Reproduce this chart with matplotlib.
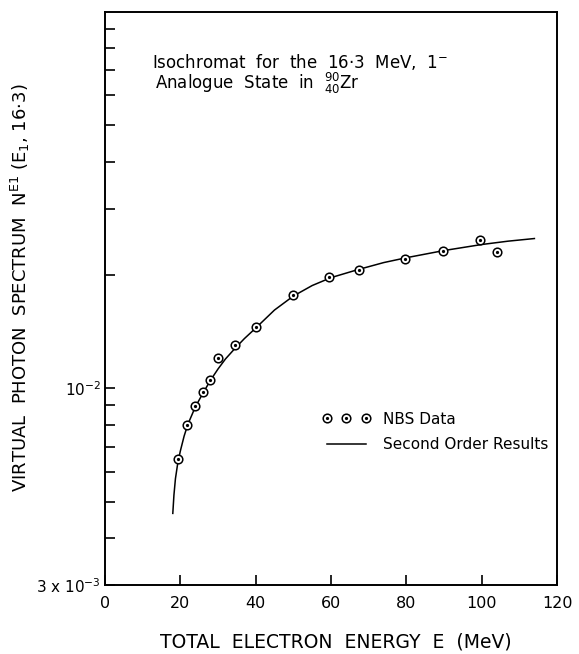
import matplotlib
matplotlib.use("Agg")
import matplotlib.pyplot as plt
from matplotlib.legend_handler import HandlerTuple

# NBS data points (total electron energy in MeV, virtual photon spectrum)
nbs_E = [19.5, 21.9, 23.8, 25.9, 27.8, 30.0, 34.5, 40.0, 50.0, 59.4,
         67.4, 79.6, 89.8, 99.5, 104.2]
nbs_N = [6.47e-3, 8.00e-3, 8.97e-3, 9.79e-3, 1.050e-2, 1.202e-2, 1.301e-2,
         1.453e-2, 1.767e-2, 1.981e-2, 2.064e-2, 2.208e-2, 2.319e-2,
         2.475e-2, 2.309e-2]

# Second order results (curve)
curve_E = [18.0, 18.3, 18.7, 19.3, 20.0, 21.0, 22.0, 24.0, 26.0, 28.0,
           30.0, 32.0, 34.5, 37.0, 40.0, 45.0, 50.0, 55.0, 60.0, 67.0,
           74.0, 80.0, 90.0, 100.0, 107.0, 114.0]
curve_N = [4.65e-3, 5.20e-3, 5.75e-3, 6.31e-3, 6.81e-3, 7.46e-3, 8.02e-3,
           8.93e-3, 9.70e-3, 1.050e-2, 1.125e-2, 1.197e-2, 1.276e-2,
           1.355e-2, 1.445e-2, 1.614e-2, 1.758e-2, 1.875e-2, 1.968e-2,
           2.065e-2, 2.158e-2, 2.223e-2, 2.323e-2, 2.410e-2, 2.460e-2,
           2.500e-2]

x_ticks = [0, 20, 40, 60, 80, 100, 120]
x_tick_labels = ["0", "20", "40", "60", "80", "100", "120"]
y_ticks = [3e-3, 1e-2]
y_tick_labels = [r"3 x $10^{-3}$", r"$10^{-2}$"]
y_minor = [4e-3, 5e-3, 6e-3, 7e-3, 8e-3, 9e-3,
           2e-2, 3e-2, 4e-2, 5e-2, 6e-2, 7e-2, 8e-2, 9e-2]

plt.rcParams['font.family'] = ['DejaVu Sans']
plt.rcParams['mathtext.fontset'] = 'dejavusans'

fig = plt.figure(figsize=(5.79, 6.54), dpi=100)
ax = fig.add_axes([105/579, 1 - 585/654, 452/579, 573/654])

line, = ax.plot(curve_E, curve_N, color='black', lw=1.1)
h_circ, = ax.plot(nbs_E, nbs_N, linestyle='none', marker='o', ms=6.2,
                  mfc='white', mec='black', mew=1.1)
h_dot, = ax.plot(nbs_E, nbs_N, linestyle='none', marker='o', ms=1.3,
                 mfc='black', mec='black')

ax.set_yscale('log')
ax.set_xlim(0, 120)
ax.set_ylim(3e-3, 1e-1)

ax.set_xticks(x_ticks)
ax.set_xticklabels(x_tick_labels, fontsize=11.5)
ax.set_yticks(y_ticks)
ax.set_yticklabels(y_tick_labels, fontsize=11)
ax.set_yticks(y_minor, minor=True)
ax.yaxis.set_minor_formatter(matplotlib.ticker.NullFormatter())
ax.tick_params(axis='both', which='both', direction='in', length=7,
               width=1.2, top=False, right=False)
ax.tick_params(axis='x', pad=8)
ax.tick_params(axis='y', pad=3)

for s in ax.spines.values():
    s.set_linewidth(1.4)

ax.set_xlabel("TOTAL  ELECTRON  ENERGY  E  (MeV)", fontsize=13.5)
ax.xaxis.set_label_coords((336 - 105) / 452, (585 - 642) / 573)
ax.xaxis.label.set_va('center')
ax.set_ylabel(r"VIRTUAL  PHOTON  SPECTRUM  N$^{\mathrm{E1}}$ (E$_{1}$, 16·3)",
              fontsize=13)
ax.yaxis.set_label_coords((20 - 105) / 452, (585 - 287.5) / 573)
ax.yaxis.label.set_va('center')

ax.text(0.105, 0.913, r"Isochromat  for  the  16·3  MeV,  1$^{-}$",
        transform=ax.transAxes, fontsize=12, va='center', ha='left')
ax.text(0.11, 0.875, r"Analogue  State  in  ${}^{90}_{40}$Zr",
        transform=ax.transAxes, fontsize=12, va='center', ha='left')

leg = ax.legend([(h_circ, h_dot), line], ["NBS Data", "Second Order Results"],
                handler_map={tuple: HandlerTuple(ndivide=1, pad=0)},
                numpoints=3, loc='center left', bbox_to_anchor=(0.480, 0.267),
                frameon=False, fontsize=11, handlelength=3.2,
                handletextpad=0.8, labelspacing=0.7, borderpad=0,
                borderaxespad=0)

fig.savefig("out.png", dpi=100)
